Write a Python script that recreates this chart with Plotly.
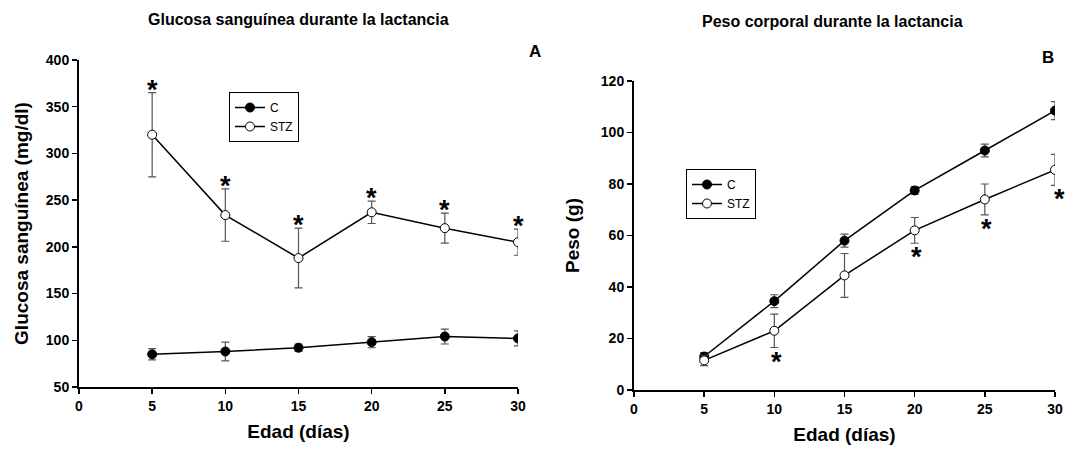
import plotly.graph_objects as go

days = [5, 10, 15, 20, 25, 30]

glucose_c = [85, 88, 92, 98, 104, 102]
glucose_c_err = [6, 10, 4, 6, 8, 8]
glucose_stz = [320, 234, 188, 237, 220, 205]
glucose_stz_err = [45, 28, 32, 12, 16, 14]

weight_c = [13, 34.5, 58, 77.5, 93, 108.5]
weight_c_err = [1.5, 2.5, 2.5, 1.5, 2.5, 3.5]
weight_stz = [11.5, 23, 44.5, 62, 74, 85.5]
weight_stz_err = [2, 6.5, 8.5, 5, 6, 6]

glucose_star_days = [5, 10, 15, 20, 25, 30]
weight_star_days = [10, 20, 25, 30]

x_ticks = [0, 5, 10, 15, 20, 25, 30]
glucose_ticks = [50, 100, 150, 200, 250, 300, 350, 400]
weight_ticks = [0, 20, 40, 60, 80, 100, 120]

FONT = "Arial, Liberation Sans, sans-serif"
ERRC = "#555555"

fig = go.Figure()

def add_series(x, y, err, name, filled, xa, ya, legend):
    fig.add_trace(go.Scatter(
        x=x, y=y, name=name, mode="lines+markers",
        xaxis=xa, yaxis=ya, legend=legend,
        line=dict(color="black", width=1.5),
        marker=dict(symbol="circle", size=9,
                    color="black" if filled else "white",
                    line=dict(color="black", width=1)),
        error_y=dict(type="data", array=err, visible=True,
                     color=ERRC, thickness=1.2, width=4),
    ))

add_series(days, glucose_c, glucose_c_err, "C", True, "x", "y", "legend")
add_series(days, glucose_stz, glucose_stz_err, "STZ", False, "x", "y", "legend")
add_series(days, weight_c, weight_c_err, "C", True, "x2", "y2", "legend2")
add_series(days, weight_stz, weight_stz_err, "STZ", False, "x2", "y2", "legend2")

STAR_FONT = dict(family=FONT, size=27, color="black")
annotations = []
for d in glucose_star_days:
    i = days.index(d)
    annotations.append(dict(x=d, y=glucose_stz[i] + glucose_stz_err[i], xref="x", yref="y",
                            text="<b>*</b>", showarrow=False, yanchor="middle", yshift=3,
                            font=STAR_FONT))
for d in weight_star_days:
    i = days.index(d)
    annotations.append(dict(x=d, y=weight_stz[i] - weight_stz_err[i], xref="x2", yref="y2",
                            text="<b>*</b>", showarrow=False, yanchor="middle", yshift=-14,
                            xshift=4 if d == 30 else 2,
                            font=STAR_FONT))

annotations += [
    dict(x=298/1073, y=1-20/450, xref="paper", yref="paper", text="<b>Glucosa sanguínea durante la lactancia</b>",
         showarrow=False, xanchor="center", yanchor="middle", font=dict(family=FONT, size=16, color="black")),
    dict(x=832/1073, y=1-22/450, xref="paper", yref="paper", text="<b>Peso corporal durante la lactancia</b>",
         showarrow=False, xanchor="center", yanchor="middle", font=dict(family=FONT, size=16, color="black")),
    dict(x=535/1073, y=1-52/450, xref="paper", yref="paper", text="<b>A</b>",
         showarrow=False, xanchor="center", yanchor="middle", font=dict(family=FONT, size=17, color="black")),
    dict(x=1048/1073, y=1-58/450, xref="paper", yref="paper", text="<b>B</b>",
         showarrow=False, xanchor="center", yanchor="middle", font=dict(family=FONT, size=17, color="black")),
]

tickfont = dict(family=FONT, size=14, color="black")
titlefont = dict(family=FONT, size=19, color="black")

axis_common = dict(showgrid=False, zeroline=False, showline=True, linecolor="black", linewidth=2,
                   ticks="outside", ticklen=5, tickwidth=1.5, tickcolor="black", tickfont=tickfont,
                   automargin=False)

def bold(vals):
    return ["<b>%s</b>" % v for v in vals]

fig.update_layout(
    width=1073, height=450, autosize=False,
    margin=dict(l=0, r=0, t=0, b=0),
    paper_bgcolor="white", plot_bgcolor="white",
    font=dict(family=FONT, color="black"),
    xaxis=dict(domain=[79/1073, 518/1073], range=[0, 30], tickvals=x_ticks, ticktext=bold(x_ticks), anchor="y",
               title=dict(text="<b>Edad (días)</b>", font=titlefont, standoff=12), **axis_common),
    yaxis=dict(domain=[63/450, 390/450], range=[50, 400], tickvals=glucose_ticks, ticktext=bold(glucose_ticks), anchor="x",
               title=dict(text="<b>Glucosa sanguínea (mg/dl)</b>", font=titlefont, standoff=12), **axis_common),
    xaxis2=dict(domain=[634/1073, 1055/1073], range=[0, 30], tickvals=x_ticks, ticktext=bold(x_ticks), anchor="y2",
                title=dict(text="<b>Edad (días)</b>", font=titlefont, standoff=12), **axis_common),
    yaxis2=dict(domain=[60/450, 369/450], range=[0, 120], tickvals=weight_ticks, ticktext=bold(weight_ticks), anchor="x2",
                title=dict(text="<b>Peso (g)</b>", font=titlefont, standoff=16), **axis_common),
    legend=dict(x=229/1073, y=1-92/450, xanchor="left", yanchor="top",
                bordercolor="black", borderwidth=1, bgcolor="white", itemwidth=30,
                font=dict(family=FONT, size=12, color="black"), tracegroupgap=0),
    legend2=dict(x=686/1073, y=1-169/450, xanchor="left", yanchor="top",
                 bordercolor="black", borderwidth=1, bgcolor="white", itemwidth=30,
                 font=dict(family=FONT, size=12, color="black"), tracegroupgap=0),
    annotations=annotations,
    showlegend=True,
    hovermode=False,
)

fig.write_html("out.html", config={"displayModeBar": False, "staticPlot": True},
               post_script="document.body.style.margin='0';document.body.style.overflow='hidden';")
